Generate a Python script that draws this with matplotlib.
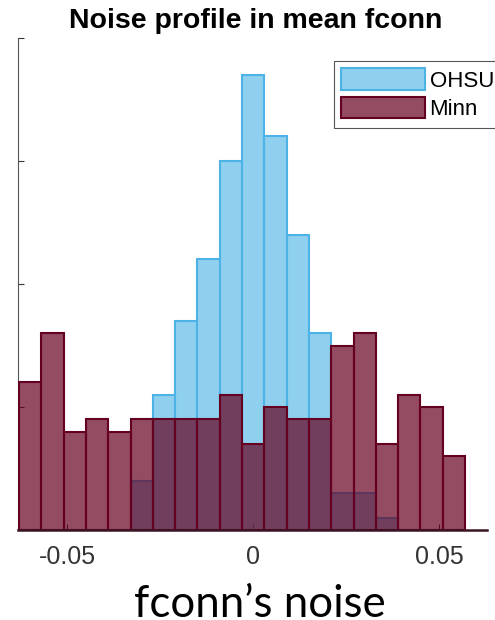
import matplotlib
matplotlib.use("Agg")
import matplotlib.pyplot as plt
from matplotlib.patches import Patch
import numpy as np

plt.rcParams.update({
    "font.family": ["Liberation Sans", "DejaVu Sans"],
    "axes.linewidth": 0.8,
})

# ---- histogram data (counts per bin, 20 bins of width 0.006) --------------
bin_start = -0.063
bin_width = 0.006
ohsu_counts = [0, 0, 0, 0, 0, 4, 11, 17, 22, 30, 37, 32, 24, 16, 3, 3, 1, 0, 0, 0]
minn_counts = [12, 16, 8, 9, 8, 9, 9, 9, 9, 11, 7, 10, 9, 9, 15, 16, 7, 11, 10, 6]
series_names = ["OHSU", "Minn"]
x_ticks = [-0.05, 0, 0.05]
x_ticklabels = ["-0.05", "0", "0.05"]
y_ticks = [0, 10, 20, 30, 40]

edges = bin_start + bin_width * np.arange(len(minn_counts) + 1)
centers = edges[:-1] + bin_width / 2

ohsu_face = (0.30, 0.70, 0.90, 0.62)
ohsu_edge = (0.30, 0.70, 0.90)
minn_face = (0.40, 0.0, 0.125, 0.70)
minn_edge = (0.40, 0.0, 0.125)

W, H = 495, 620
fig = plt.figure(figsize=(W / 100, H / 100), dpi=100)
ax = fig.add_axes([18 / W, (H - 530) / H, (487 - 18) / W, (530 - 38) / H])

ax.hist(centers, bins=edges, weights=ohsu_counts, facecolor=ohsu_face,
        edgecolor=ohsu_edge, linewidth=1.5, zorder=2)
ax.hist(centers, bins=edges, weights=minn_counts, facecolor=minn_face,
        edgecolor=minn_edge, linewidth=1.5, zorder=3)

ax.set_xlim(-0.0633, 0.0629)
ax.set_ylim(0, 40)
ax.set_xticks(x_ticks)
ax.set_xticklabels(x_ticklabels)
ax.set_yticks(y_ticks)
ax.set_yticklabels([])
ax.tick_params(axis="both", direction="in", length=4, width=0.8,
               colors="#333333", labelsize=18, pad=11)

for side in ("top", "right"):
    ax.spines[side].set_visible(False)
ax.spines["left"].set_color("#555555")
ax.spines["left"].set_linewidth(0.8)
ax.spines["bottom"].set_color("#3a1422")
ax.spines["bottom"].set_linewidth(1.8)
ax.spines["bottom"].set_zorder(4)

# title placed by its centre line
fig.text(256 / W, 1 - 21 / H, "Noise profile in mean fconn", ha="center",
         va="center", fontsize=20.5, fontweight="bold")

handles = [
    Patch(facecolor=ohsu_face, edgecolor=ohsu_edge, linewidth=1.5),
    Patch(facecolor=minn_face, edgecolor=minn_edge, linewidth=1.5),
]
leg = fig.legend(handles, series_names, loc="upper left",
                 bbox_to_anchor=(334 / W, 1 - 61 / H), borderaxespad=0,
                 fontsize=16, handlelength=3.75, handleheight=1.1,
                 handletextpad=0.22, labelspacing=0.25, borderpad=0.33,
                 fancybox=False, framealpha=1)
leg.get_frame().set_edgecolor("#555555")
leg.get_frame().set_linewidth(0.8)

fig.text(260 / W, 3 / H, "fconn\u2019s noise", ha="center", va="baseline",
         fontsize=31.5, family=["Lato", "DejaVu Sans"], color="black")

fig.savefig("out.png", dpi=100)
